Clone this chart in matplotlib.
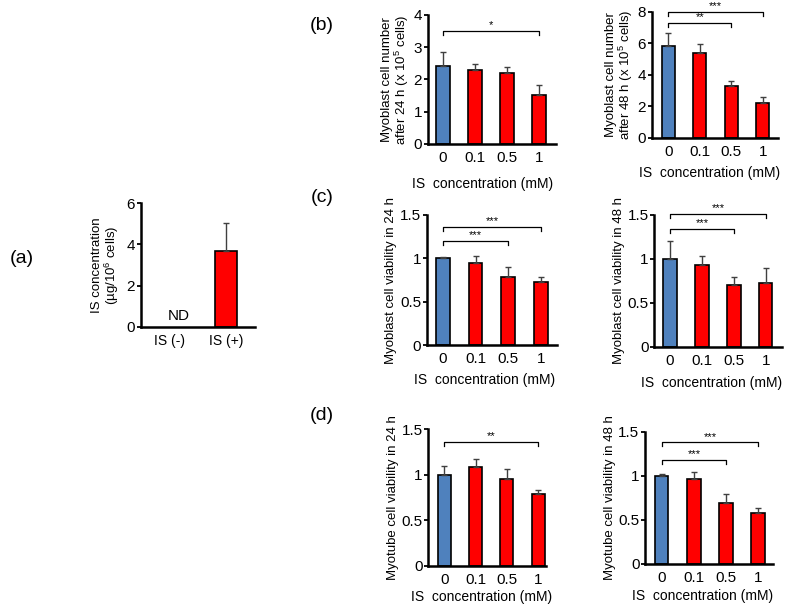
import numpy as np
import matplotlib
matplotlib.use('Agg')
import matplotlib.pyplot as plt

plt.rcParams['font.family'] = ['Liberation Sans', 'DejaVu Sans']
plt.rcParams['mathtext.fontset'] = 'custom'
plt.rcParams['mathtext.rm'] = 'Liberation Sans'
plt.rcParams['mathtext.it'] = 'Liberation Sans:italic'

# Datos
conc = ['0', '0.1', '0.5', '1']

a_labels = ['IS (-)', 'IS (+)']
a_vals = [0, 3.68]
a_err = [0, 1.35]

b24 = [2.43, 2.28, 2.20, 1.52]
b24_err = [0.43, 0.19, 0.18, 0.30]
b48 = [5.82, 5.40, 3.28, 2.22]
b48_err = [0.81, 0.53, 0.34, 0.34]
c24 = [1.0, 0.95, 0.79, 0.73]
c24_err = [0.02, 0.08, 0.11, 0.06]
c48 = [1.0, 0.93, 0.70, 0.73]
c48_err = [0.20, 0.10, 0.09, 0.17]
d24 = [1.0, 1.09, 0.96, 0.79]
d24_err = [0.10, 0.08, 0.10, 0.04]
d48 = [1.0, 0.96, 0.69, 0.58]
d48_err = [0.02, 0.08, 0.10, 0.06]

# Comparaciones significativas (barra i, barra j, altura, texto)
b24_sig = [(0, 3, 3.5, '*')]
b48_sig = [(0, 2, 7.3, '**'), (0, 3, 8.0, '***')]
c24_sig = [(0, 2, 1.2, '***'), (0, 3, 1.36, '***')]
c48_sig = [(0, 2, 1.34, '***'), (0, 3, 1.51, '***')]
d24_sig = [(0, 3, 1.365, '**')]
d48_sig = [(0, 2, 1.18, '***'), (0, 3, 1.38, '***')]

BLUE = '#4F81BD'
RED = '#FF0000'
xlab = 'IS  concentration (mM)'

fig = plt.figure(figsize=(7.87, 6.08), dpi=100)


def estilo(ax):
    ax.spines['top'].set_visible(False)
    ax.spines['right'].set_visible(False)
    ax.spines['left'].set_linewidth(1.8)
    ax.spines['bottom'].set_linewidth(1.8)
    ax.tick_params(axis='x', length=0, pad=5, labelsize=11)
    ax.tick_params(axis='y', length=3, width=1.3, direction='out', pad=1, labelsize=11)


def panel(rect, vals, err, ylim, yticks, ylabels, ylabel, sig, xlim=(-0.5, 3.5),
          xpad=6, xlx=0.45):
    ax = fig.add_axes(rect)
    x = np.arange(len(vals))
    colores = [BLUE] + [RED] * (len(vals) - 1)
    ax.bar(x, vals, width=0.42, color=colores, edgecolor='black', linewidth=1.2,
           yerr=[np.zeros(len(err)), err],
           error_kw=dict(ecolor='#404040', elinewidth=1.0, capsize=2.2, capthick=1.0))
    ax.set_xlim(*xlim)
    ax.set_ylim(*ylim)
    ax.set_xticks(x)
    ax.set_xticklabels(conc)
    ax.set_yticks(yticks)
    ax.set_yticklabels(ylabels)
    ax.set_ylabel(ylabel, fontsize=9.5, labelpad=2, linespacing=1.0)
    ax.set_xlabel(xlab, fontsize=10, labelpad=xpad)
    ax.xaxis.label.set_x(xlx)
    estilo(ax)
    # Corchetes de significancia
    baja = 0.03 * ylim[1]
    for i, j, y, txt in sig:
        ax.plot([x[i], x[i], x[j], x[j]], [y - baja, y, y, y - baja], color='black',
                lw=0.9, clip_on=False)
        ax.text((x[i] + x[j]) / 2, y + 0.005 * ylim[1], txt, ha='center', va='bottom',
                fontsize=8, clip_on=False)
    return ax


# (a)
axa = fig.add_axes([0.1788, 0.4627, 0.1456, 0.2028])
xa = np.arange(len(a_vals))
axa.bar(xa[1:], a_vals[1:], width=0.4, color=RED, edgecolor='black', linewidth=1.2,
        yerr=[[0], a_err[1:]],
        error_kw=dict(ecolor='#404040', elinewidth=1.0, capsize=2.2, capthick=1.0))
axa.text(0.15, 0.2, 'ND', ha='center', va='bottom', fontsize=11)
axa.set_xlim(-0.52, 1.52)
axa.set_ylim(0, 6)
axa.set_xticks(xa)
axa.set_xticklabels(a_labels)
axa.set_yticks([0, 2, 4, 6])
axa.set_ylabel('IS concentration\n(µg/10$^6$ cells)', fontsize=9.5, labelpad=4, linespacing=1.0)
estilo(axa)
axa.tick_params(axis='x', labelsize=10)

# (b)
panel([0.5435, 0.7632, 0.163, 0.2122], b24, b24_err, (0, 4), [0, 1, 2, 3, 4],
      ['0', '1', '2', '3', '4'], 'Myoblast cell number\nafter 24 h (x 10$^5$ cells)', b24_sig,
      xlim=(-0.47, 3.53), xpad=8.5, xlx=0.43)
panel([0.828, 0.7735, 0.1605, 0.2072], b48, b48_err, (0, 8), [0, 2, 4, 6, 8],
      ['0', '2', '4', '6', '8'], 'Myoblast cell number\nafter 48 h (x 10$^5$ cells)', b48_sig,
      xlim=(-0.53, 3.48), xpad=5.5, xlx=0.455)

# (c)
vt = [0, 0.5, 1, 1.5]
vl = ['0', '0.5', '1', '1.5']
panel([0.5422, 0.4321, 0.1656, 0.2143], c24, c24_err, (0, 1.5), vt, vl,
      'Myoblast cell viability in 24 h', c24_sig, xpad=4.8, xlx=0.447)
panel([0.8314, 0.4293, 0.1619, 0.2171], c48, c48_err, (0, 1.5), vt, vl,
      'Myoblast cell viability in 48 h', c48_sig, xlim=(-0.49, 3.5), xpad=6, xlx=0.45)

# (d)
panel([0.5442, 0.0691, 0.1496, 0.2248], d24, d24_err, (0, 1.5), vt, vl,
      'Myotube cell viability in 24 h', d24_sig, xlim=(-0.51, 3.25), xpad=2, xlx=0.454)
panel([0.8196, 0.0724, 0.1626, 0.2176], d48, d48_err, (0, 1.5), vt, vl,
      'Myotube cell viability in 48 h', d48_sig, xlim=(-0.52, 3.46), xpad=3, xlx=0.447)

# Letras de los paneles
fig.text(22 / 787, 1 - 258 / 608, '(a)', ha='center', va='center', fontsize=14)
fig.text(322 / 787, 1 - 25 / 608, '(b)', ha='center', va='center', fontsize=14)
fig.text(322 / 787, 1 - 198 / 608, '(c)', ha='center', va='center', fontsize=14)
fig.text(322 / 787, 1 - 415 / 608, '(d)', ha='center', va='center', fontsize=14)

fig.savefig('out.png', dpi=100)
